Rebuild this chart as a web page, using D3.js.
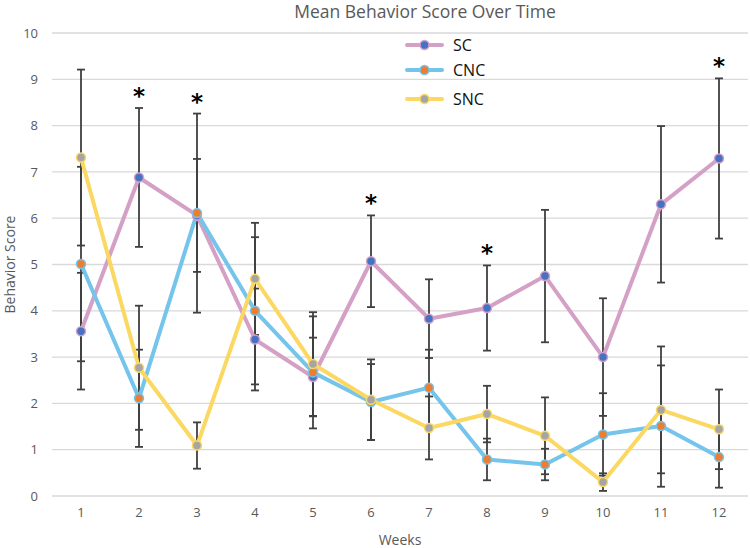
<!DOCTYPE html>
<html><head><meta charset="utf-8">
<script src="https://cdn.jsdelivr.net/npm/d3@7"></script>
<style>body{margin:0;background:#fff}svg{display:block}</style>
</head><body>
<svg id="c" width="750" height="548"></svg>
<script>
const weeks = [1,2,3,4,5,6,7,8,9,10,11,12];
const yTicks = [0,1,2,3,4,5,6,7,8,9,10];
const scMean  = [3.56, 6.88, 6.06, 3.38, 2.57, 5.07, 3.83, 4.06, 4.75, 3.00, 6.30, 7.29];
const scErr   = [1.26, 1.50, 1.22, 1.10, 0.85, 0.99, 0.85, 0.92, 1.43, 1.27, 1.69, 1.73];
const cncMean = [5.01, 2.11, 6.11, 4.00, 2.67, 2.03, 2.34, 0.79, 0.68, 1.33, 1.51, 0.84];
const cncErr  = [2.10, 1.05, 2.15, 1.59, 1.21, 0.82, 0.82, 0.45, 0.34, 0.89, 1.31, 0.66];
const sncMean = [7.31, 2.77, 1.09, 4.69, 2.85, 2.08, 1.47, 1.77, 1.30, 0.30, 1.86, 1.44];
const sncErr  = [1.90, 1.34, 0.50, 1.21, 1.12, 0.87, 0.68, 0.61, 0.83, 0.19, 1.37, 0.86];
const significantWeeks = [2, 3, 6, 8, 12];
const seriesNames = ["SC", "CNC", "SNC"];

const series = [
  {name: seriesNames[0], mean: scMean, err: scErr, line: "#D5A0C5", marker: "#4472C4"},
  {name: seriesNames[1], mean: cncMean, err: cncErr, line: "#74C4EB", marker: "#ED7D31"},
  {name: seriesNames[2], mean: sncMean, err: sncErr, line: "#FBD862", marker: "#A5A5A5"}
];

const svg = d3.select("#c");
const M = {left: 52, right: 748, top: 33, bottom: 496};
const x = d3.scaleBand().domain(weeks).range([M.left, M.right]);
const xc = d => x(d) + x.bandwidth()/2;
const y = d3.scaleLinear().domain([0, 10]).range([M.bottom, M.top]);
const font = "'Open Sans', 'Noto Sans', sans-serif";

// gridlines
svg.append("g").selectAll("line").data(yTicks).join("line")
  .attr("x1", M.left).attr("x2", M.right)
  .attr("y1", d => y(d)).attr("y2", d => y(d))
  .attr("stroke", "#D9D9D9").attr("stroke-width", 1.3);

// axes labels via d3 axes
const yAxis = svg.append("g").attr("transform", `translate(${M.left - 8},0)`)
  .call(d3.axisLeft(y).tickValues(yTicks).tickSize(0).tickPadding(6));
yAxis.select(".domain").remove();
yAxis.selectAll("text").attr("font-family", font).attr("font-size", 13).attr("fill", "#595959");

const xAxis = svg.append("g").attr("transform", `translate(0,${M.bottom + 12})`)
  .call(d3.axisBottom(x).tickSize(0).tickPadding(0));
xAxis.select(".domain").remove();
xAxis.selectAll("text").attr("font-family", font).attr("font-size", 13).attr("fill", "#595959").attr("dy", "0.71em");

// error bars
const cap = 4;
series.forEach(s => {
  const g = svg.append("g").attr("stroke", "#404040").attr("stroke-width", 1.8);
  weeks.forEach((w, i) => {
    const hi = y(s.mean[i] + s.err[i]), lo = y(Math.max(0, s.mean[i] - s.err[i]));
    g.append("line").attr("x1", xc(w)).attr("x2", xc(w)).attr("y1", hi).attr("y2", lo);
    g.append("line").attr("x1", xc(w)-cap).attr("x2", xc(w)+cap).attr("y1", hi).attr("y2", hi);
    g.append("line").attr("x1", xc(w)-cap).attr("x2", xc(w)+cap).attr("y1", lo).attr("y2", lo);
  });
});

// lines
const lineGen = d3.line().x((d, i) => xc(weeks[i])).y(d => y(d));
series.forEach(s => {
  svg.append("path").datum(s.mean).attr("d", lineGen)
    .attr("fill", "none").attr("stroke", s.line).attr("stroke-width", 4)
    .attr("stroke-linejoin", "round");
});
// markers
series.forEach(s => {
  svg.append("g").selectAll("circle").data(s.mean).join("circle")
    .attr("cx", (d, i) => xc(weeks[i])).attr("cy", d => y(d)).attr("r", 4.5)
    .attr("fill", s.marker).attr("stroke", s.line).attr("stroke-width", 1.5);
});

// significance asterisks
svg.append("g").selectAll("text").data(significantWeeks).join("text")
  .attr("x", d => xc(d))
  .attr("y", d => {
    const i = weeks.indexOf(d);
    const top = d3.max(series, s => s.mean[i] + s.err[i]);
    return y(top) - 4;
  })
  .attr("text-anchor", "middle").attr("font-family", "'DejaVu Sans', sans-serif")
  .attr("font-weight", "bold").attr("font-size", 23).attr("fill", "#000").text("*");

// title
svg.append("text").attr("x", 425).attr("y", 18).attr("text-anchor", "middle")
  .attr("font-family", font).attr("font-size", 17.5).attr("fill", "#595959")
  .text("Mean Behavior Score Over Time");

// axis titles
svg.append("text").attr("x", (M.left + M.right)/2).attr("y", 545).attr("text-anchor", "middle")
  .attr("font-family", font).attr("font-size", 14).attr("fill", "#595959").text("Weeks");
svg.append("text").attr("transform", `translate(15,${(M.top + M.bottom)/2}) rotate(-90)`)
  .attr("text-anchor", "middle").attr("font-family", font).attr("font-size", 14)
  .attr("fill", "#595959").text("Behavior Score");

// legend
const legendRows = [45, 70, 99];
series.forEach((s, i) => {
  const g = svg.append("g").attr("transform", `translate(0,${legendRows[i]})`);
  g.append("line").attr("x1", 407).attr("x2", 442).attr("y1", 0).attr("y2", 0)
    .attr("stroke", s.line).attr("stroke-width", 4).attr("stroke-linecap", "round");
  g.append("circle").attr("cx", 424.5).attr("cy", 0).attr("r", 4.5)
    .attr("fill", s.marker).attr("stroke", s.line).attr("stroke-width", 1.5);
  g.append("text").attr("x", 453).attr("y", 0).attr("dy", "0.36em")
    .attr("font-family", font).attr("font-size", 16).attr("fill", "#111").text(s.name);
});
</script>
</body></html>
